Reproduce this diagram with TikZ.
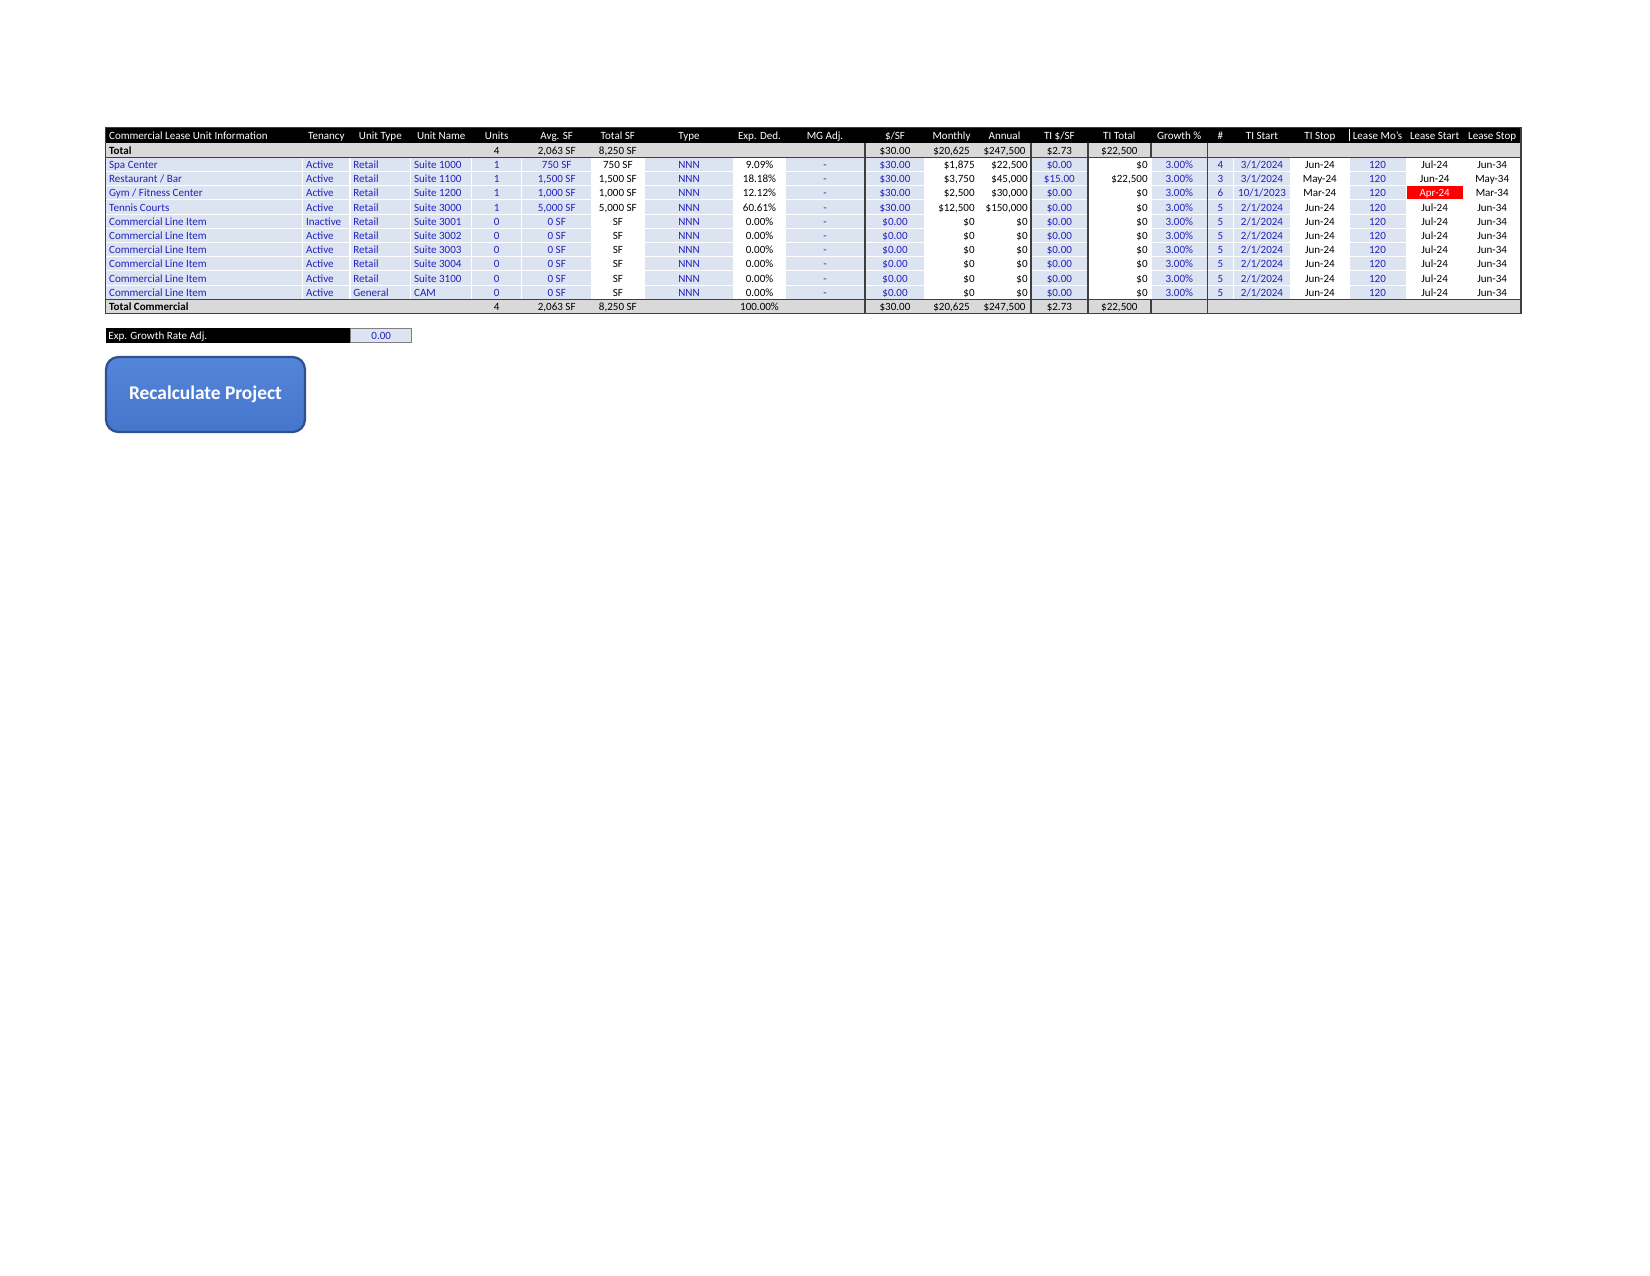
\documentclass[tikz,border=0pt]{standalone}
\usepackage{fontspec}
\setmainfont{Carlito}
\definecolor{cellblue}{HTML}{DCE4F2}
\definecolor{txtblue}{RGB}{34,34,184}
\definecolor{totgray}{HTML}{D9D9D9}
\definecolor{rulegray}{HTML}{3F3F3F}
\definecolor{btnfill}{HTML}{4676CC}
\definecolor{btntop}{HTML}{5585DA}
\definecolor{btnedge}{HTML}{2F5192}
\newcommand\tabfont{\fontsize{5.3}{6}\selectfont}
\def\colX{{105.7,302.7,350,410.7,471.7,521.7,591.7,644,734,785,865,925,978,1031,1087.7,1151,1207.5,1233.3,1290.7,1349,1406,1463.3,1521}}
\def\alignArr{{0,0,0,0,1,1,1,1,1,1,1,2,2,1,2,1,1,1,1,1,1,1}}
\def\blueArr{{1,1,1,1,1,1,0,1,0,1,1,0,0,1,0,1,1,1,0,1,0,0}}
\newcommand\putrow[4]{%
  \foreach \txt [count=\cc from 0] in {#4}{%
    \ifx\txt\empty\else
      \pgfmathsetmacro\xl{\colX[\cc]}%
      \pgfmathsetmacro\xr{\colX[\cc+1]}%
      \ifnum#3=2 \pgfmathtruncatemacro\al{\alignArr[\cc]}\else\ifnum\cc=0 \def\al{0}\else\def\al{1}\fi\fi
      \ifnum#3=0 \def\tc{white}\else\ifnum#3=1 \def\tc{black}\else
        \pgfmathtruncatemacro\bl{\blueArr[\cc]}\ifnum\bl=1 \def\tc{txtblue}\else\def\tc{black}\fi\fi\fi
      \ifcase\al
        \node[cell,anchor=base west,text=\tc] (#1-\cc) at ({\xl+3},{#2+4}) {\txt};
      \or
        \node[cell,anchor=base,text=\tc] (#1-\cc) at ({(\xl+\xr)/2},{#2+4}) {\txt};
      \else
        \node[cell,anchor=base east,text=\tc] (#1-\cc) at ({\xr-3},{#2+4}) {\txt};
      \fi
    \fi
  }%
}
\begin{document}
\begin{tikzpicture}[x=0.48pt,y=-0.48pt,
  cell/.style={inner sep=0pt,font=\tabfont},
  darkrule/.style={draw=rulegray,line width=0.75pt},
  sep/.style={draw=white,line width=0.5pt}]
\useasboundingbox (0,0) rectangle (1650,1275);
\fill[white] (0,0) rectangle (1650,1275);
% backgrounds
\fill[black] (105.7,127.3) rectangle (1521,142.7);
\fill[totgray] (105.7,142.7) rectangle (1521,157.3);
\fill[totgray] (105.7,299.3) rectangle (1521,313.3);
\foreach \cc in {0,1,2,3,4,5,7,9,10,13,15,16,17,19}{
  \pgfmathsetmacro\xl{\colX[\cc]}
  \pgfmathsetmacro\xr{\colX[\cc+1]}
  \fill[cellblue] (\xl,157.3) rectangle (\xr,299.3);
}
\foreach \k in {1,...,9} \draw[sep] (105.7,{157.3+14.2*\k}) -- (1521,{157.3+14.2*\k});
\foreach \cc in {1,...,21}{\pgfmathsetmacro\xl{\colX[\cc]}\draw[sep] (\xl,157.3) -- (\xl,299.3);}
\fill[red] (1407,186.4) rectangle (1462.5,199.3);
% rules
\draw[white,line width=0.4pt] (1349,129) -- (1349,141);
\draw[darkrule] (105.7,157.3) -- (1521,157.3);
\draw[darkrule] (105.7,299.3) -- (1521,299.3);
\foreach \xx in {865,1031,1087.7,1207.5} \draw[darkrule] (\xx,142.7) -- (\xx,313.3);
\draw[darkrule] (1151,142.7) -- (1151,157.3);
\draw[darkrule] (1151,299.3) -- (1151,313.3);
\draw[darkrule] (105.7,127.3) rectangle (1521,313.3);
% texts
\putrow{h}{135}{0}{Commercial Lease Unit Information,Tenancy,Unit Type,Unit Name,Units,Avg. SF,Total SF,Type,Exp. Ded.,MG Adj.,\$/SF,Monthly,Annual,TI \$/SF,TI Total,Growth \%,\#,TI Start,TI Stop,Lease Mo's,Lease Start,Lease Stop}
\putrow{t}{150}{1}{{\bfseries Total},{},{},{},4,{2,063 SF},{8,250 SF},{},{},{},\$30.00,{\$20,625},{\$247,500},\$2.73,{\$22,500},{},{},{},{},{},{},{}}
\putrow{d0}{164.4}{2}{Spa Center,Active,Retail,Suite 1000,1,750 SF,750 SF,NNN,9.09\%,-,\$30.00,{\$1,875},{\$22,500},\$0.00,\$0,3.00\%,4,3/1/2024,Jun-24,120,Jul-24,Jun-34}
\putrow{d1}{178.6}{2}{Restaurant / Bar,Active,Retail,Suite 1100,1,{1,500 SF},{1,500 SF},NNN,18.18\%,-,\$30.00,{\$3,750},{\$45,000},\$15.00,{\$22,500},3.00\%,3,3/1/2024,May-24,120,Jun-24,May-34}
\putrow{d2}{192.8}{2}{Gym / Fitness Center,Active,Retail,Suite 1200,1,{1,000 SF},{1,000 SF},NNN,12.12\%,-,\$30.00,{\$2,500},{\$30,000},\$0.00,\$0,3.00\%,6,10/1/2023,Mar-24,120,{\color{white}Apr-24},Mar-34}
\putrow{d3}{207.0}{2}{Tennis Courts,Active,Retail,Suite 3000,1,{5,000 SF},{5,000 SF},NNN,60.61\%,-,\$30.00,{\$12,500},{\$150,000},\$0.00,\$0,3.00\%,5,2/1/2024,Jun-24,120,Jul-24,Jun-34}
\putrow{d4}{221.2}{2}{Commercial Line Item,Inactive,Retail,Suite 3001,0,0 SF,SF,NNN,0.00\%,-,\$0.00,\$0,\$0,\$0.00,\$0,3.00\%,5,2/1/2024,Jun-24,120,Jul-24,Jun-34}
\putrow{d5}{235.4}{2}{Commercial Line Item,Active,Retail,Suite 3002,0,0 SF,SF,NNN,0.00\%,-,\$0.00,\$0,\$0,\$0.00,\$0,3.00\%,5,2/1/2024,Jun-24,120,Jul-24,Jun-34}
\putrow{d6}{249.6}{2}{Commercial Line Item,Active,Retail,Suite 3003,0,0 SF,SF,NNN,0.00\%,-,\$0.00,\$0,\$0,\$0.00,\$0,3.00\%,5,2/1/2024,Jun-24,120,Jul-24,Jun-34}
\putrow{d7}{263.8}{2}{Commercial Line Item,Active,Retail,Suite 3004,0,0 SF,SF,NNN,0.00\%,-,\$0.00,\$0,\$0,\$0.00,\$0,3.00\%,5,2/1/2024,Jun-24,120,Jul-24,Jun-34}
\putrow{d8}{278.0}{2}{Commercial Line Item,Active,Retail,Suite 3100,0,0 SF,SF,NNN,0.00\%,-,\$0.00,\$0,\$0,\$0.00,\$0,3.00\%,5,2/1/2024,Jun-24,120,Jul-24,Jun-34}
\putrow{d9}{292.2}{2}{Commercial Line Item,Active,General,CAM,0,0 SF,SF,NNN,0.00\%,-,\$0.00,\$0,\$0,\$0.00,\$0,3.00\%,5,2/1/2024,Jun-24,120,Jul-24,Jun-34}
\putrow{tc}{306.3}{1}{{\bfseries Total Commercial},{},{},{},4,{2,063 SF},{8,250 SF},{},100.00\%,{},\$30.00,{\$20,625},{\$247,500},\$2.73,{\$22,500},{},{},{},{},{},{},{}}
% growth rate adj
\fill[black] (105.7,328.3) rectangle (350.7,342.7);
\filldraw[fill=cellblue,draw=gray,line width=0.5pt] (350.7,328.3) rectangle (411.7,342.7);
\node[cell,anchor=base west,text=white] (egr) at (108,339.5) {Exp. Growth Rate Adj.};
\node[cell,anchor=base,text=txtblue] (egv) at (381.2,339.5) {0.00};
% button
\node[draw=btnedge,line width=1.1pt,rounded corners=6pt,top color=btntop,bottom color=btnfill,
  minimum width=95.5pt,minimum height=36pt,inner sep=0pt,text=white,
  font=\fontsize{9.3}{11}\selectfont\bfseries] (btn) at (205.5,394.5) {Recalculate Project};
\end{tikzpicture}
\end{document}
